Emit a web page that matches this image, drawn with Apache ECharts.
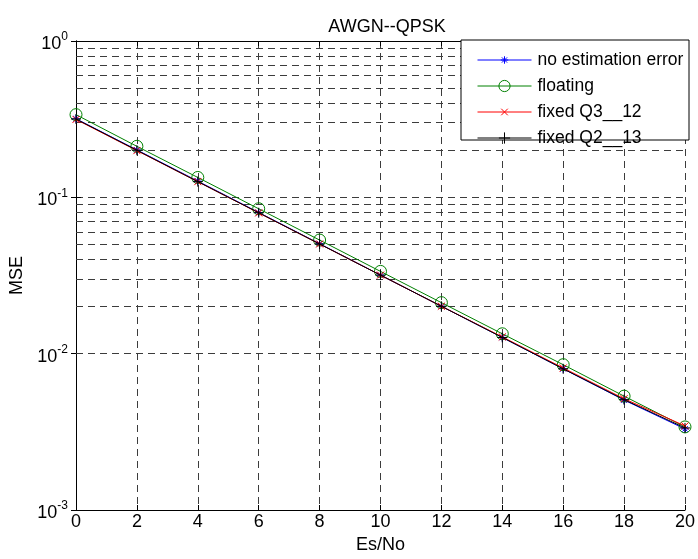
<!DOCTYPE html>
<html>
<head>
<meta charset="utf-8">
<script src="https://cdn.jsdelivr.net/npm/echarts@6/dist/echarts.min.js"></script>
<style>
  html, body { margin: 0; padding: 0; background: #fff; }
  #chart { width: 698px; height: 559px; }
</style>
</head>
<body>
<div id="chart"></div>
<script>
// Es/No in dB
const esNo = [0, 2, 4, 6, 8, 10, 12, 14, 16, 18, 20];

// MSE values
const noEstimationError = [0.318, 0.201, 0.127, 0.0800, 0.0505, 0.0318, 0.0201, 0.0127, 0.0080, 0.00505, 0.00330];
const floating = [0.338, 0.212, 0.134, 0.0845, 0.0533, 0.0336, 0.0212, 0.0134, 0.0085, 0.00535, 0.00340];
const fixedQ3 = [0.315, 0.199, 0.126, 0.0795, 0.0503, 0.0318, 0.0201, 0.0128, 0.0081, 0.00515, 0.00345];
const fixedQ2 = [0.317, 0.200, 0.126, 0.0797, 0.0503, 0.0318, 0.0201, 0.0127, 0.0080, 0.00508, 0.00335];

const seriesNames = ["no estimation error", "floating", "fixed Q3__12", "fixed Q2__13"];
const seriesColors = ["#0000ff", "#008000", "#ff0000", "#000000"];

// minor log grid lines (2..9 in each decade)
const minorGrid = [];
[0.001, 0.01, 0.1].forEach(d => {
    for (let k = 2; k <= 9; k++) minorGrid.push(+(d * k).toPrecision(3));
});

const FONT = "Liberation Sans, Arial, Helvetica, sans-serif";
const FS = 18;
const gridDash = { color: "#3c3c3c", width: 1, type: [7, 5] };

// marker glyphs, padded with empty moves so the drawn mark is smaller than the box
const symbols = [
    "path://M-1.5,-1.5M1.5,1.5M0,-1L0,1M-1,0L1,0M-0.7,-0.7L0.7,0.7M-0.7,0.7L0.7,-0.7",
    "circle",
    "path://M-1.7,-1.7M1.7,1.7M-1,-1L1,1M-1,1L1,-1",
    "path://M0,-1L0,1M-1,0L1,0"
];
const symbolSizes = [12, 12, 12, 10];
const dataSets = [noEstimationError, floating, fixedQ3, fixedQ2];

const chart = echarts.init(document.getElementById("chart"), null, { renderer: "canvas" });

const supLabel = (v) => {
    const e = Math.round(Math.log10(v));
    return "{b|10}{s|" + e + "}";
};

const option = {
    backgroundColor: "#fff",
    animation: false,
    textStyle: { fontFamily: FONT },
    title: {
        text: "AWGN--QPSK",
        left: 382,
        top: 13,
        textAlign: "center",
        textStyle: { fontSize: FS, fontWeight: "normal", color: "#000", fontFamily: FONT }
    },
    grid: { left: 76, right: 8, top: 41, bottom: 49 },
    legend: {
        orient: "vertical",
        left: 472,
        top: 46,
        itemWidth: 54,
        itemHeight: 14,
        itemGap: 8,
        data: seriesNames,
        lineStyle: { width: 1 },
        itemStyle: { borderWidth: 1 },
        textStyle: { fontSize: 17.5, color: "#000", fontFamily: FONT, padding: [0, 0, 0, 1] },
        z: 6
    },
    graphic: [{
        type: "rect",
        shape: { x: 461, y: 40, width: 228, height: 100 },
        style: { fill: "#fff", stroke: "#000", lineWidth: 1 },
        z: 5
    }],
    xAxis: [{
        type: "value",
        min: 0,
        max: 20,
        interval: 2,
        name: "Es/No",
        nameLocation: "middle",
        nameGap: 21,
        nameTextStyle: { fontSize: FS, color: "#000", fontFamily: FONT },
        axisLine: { lineStyle: { color: "#000", width: 1 } },
        axisTick: { inside: true, length: 5, lineStyle: { color: "#000" } },
        axisLabel: { fontSize: FS, color: "#000", margin: 3 },
        splitLine: { show: true, lineStyle: gridDash }
    }, {
        type: "value",
        position: "top",
        min: 0,
        max: 20,
        interval: 2,
        axisLine: { lineStyle: { color: "#000", width: 1 } },
        axisTick: { inside: true, length: 5, lineStyle: { color: "#000" } },
        axisLabel: { show: false },
        splitLine: { show: false }
    }],
    yAxis: [{
        type: "log",
        logBase: 10,
        min: 0.001,
        max: 1,
        name: "MSE",
        nameLocation: "middle",
        nameGap: 50,
        nameTextStyle: { fontSize: FS, color: "#000", fontFamily: FONT },
        axisLine: { show: true, lineStyle: { color: "#000", width: 1 } },
        axisTick: { show: true, inside: true, length: 5, lineStyle: { color: "#000" } },
        axisLabel: {
            margin: 8,
            formatter: supLabel,
            rich: {
                b: { fontSize: FS, color: "#000", fontFamily: FONT, padding: [6, 0, 0, 0] },
                s: { fontSize: 12, color: "#000", fontFamily: FONT, padding: [0, 0, 8, 0] }
            }
        },
        splitLine: { show: true, lineStyle: gridDash }
    }, {
        type: "log",
        logBase: 10,
        min: 0.001,
        max: 1,
        position: "right",
        axisLine: { show: true, lineStyle: { color: "#000", width: 1 } },
        axisTick: { show: true, inside: true, length: 5, lineStyle: { color: "#000" } },
        axisLabel: { show: false },
        splitLine: { show: false }
    }],
    series: seriesNames.map((name, i) => ({
        name,
        type: "line",
        xAxisIndex: 0,
        yAxisIndex: 0,
        color: seriesColors[i],
        data: esNo.map((x, j) => [x, dataSets[i][j]]),
        symbol: symbols[i],
        symbolSize: symbolSizes[i],
        symbolKeepAspect: true,
        showAllSymbol: true,
        lineStyle: { color: seriesColors[i], width: 1 },
        itemStyle: { color: "transparent", borderColor: seriesColors[i], borderWidth: 1 },
        emphasis: { disabled: true },
        z: 2 + i,
        markLine: i === 0 ? {
            silent: true,
            symbol: "none",
            label: { show: false },
            lineStyle: gridDash,
            data: minorGrid.map(v => ({ yAxis: v })),
            z: 1
        } : undefined
    }))
};

chart.setOption(option);
</script>
</body>
</html>
